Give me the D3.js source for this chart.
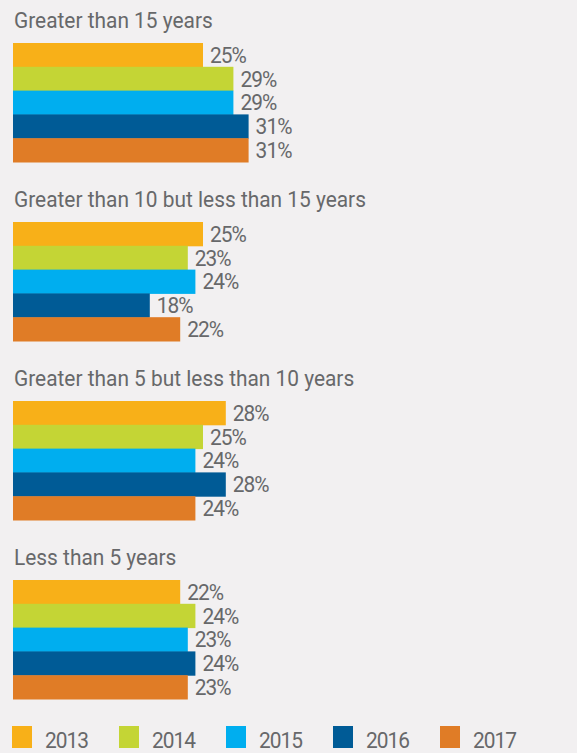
<!DOCTYPE html>
<meta charset="utf-8">
<style>
html, body {
  margin: 0;
  overflow: hidden;
  background: #f2f0f1;
}
text {
  font-family: Roboto, sans-serif;
  fill: #67686a;
}
</style>
<body>
<script src="https://cdn.jsdelivr.net/npm/d3@7"></script>
<script>
var width = 577,
    height = 753;

var groups = ["Greater than 15 years",
              "Greater than 10 but less than 15 years",
              "Greater than 5 but less than 10 years",
              "Less than 5 years"];
var years = ["2013", "2014", "2015", "2016", "2017"];
var colors = ["#f8b018", "#c4d535", "#00aeef", "#005b96", "#e07c26"];

// one row per group, one value per year
var values = [
  [25, 29, 29, 31, 31],
  [25, 23, 24, 18, 22],
  [28, 25, 24, 28, 24],
  [22, 24, 23, 24, 23]
];

var squeeze = 0.95; // fake a condensed face

var svg = d3.select("body").append("svg")
    .attr("width", width)
    .attr("height", height);

var x = d3.scaleLinear().domain([0, 100]).range([13, 773]);
var gy = d3.scaleLinear().domain([0, 3]).range([43, 580]);
var by = d3.scaleBand().domain(years).range([0, 119]).padding(0);
var color = d3.scaleOrdinal().domain(years).range(colors);

function place(tx, ty) {
  return "translate(" + tx + "," + ty + ") scale(" + squeeze + ",1)";
}

var g = svg.selectAll(".group")
    .data(groups)
  .enter().append("g")
    .attr("class", "group")
    .attr("transform", function(d, i) { return "translate(0," + gy(i) + ")"; });

g.append("text")
    .attr("transform", place(14, -15))
    .style("font-size", "22px")
    .text(function(d) { return d; });

var rows = g.selectAll(".row")
    .data(function(d, i) {
      return years.map(function(y, j) { return {year: y, value: values[i][j]}; });
    })
  .enter().append("g")
    .attr("class", "row");

rows.append("rect")
    .attr("x", x(0))
    .attr("y", function(d) { return by(d.year); })
    .attr("width", function(d) { return x(d.value) - x(0); })
    .attr("height", by.bandwidth() + 0.5)
    .attr("fill", function(d) { return color(d.year); });

rows.append("text")
    .attr("transform", function(d) {
      return place(x(d.value) + 7, by(d.year) + by.bandwidth() - 4);
    })
    .style("font-size", "22px")
    .style("letter-spacing", "-1px")
    .text(function(d) { return d.value + "%"; });

// legend
var lx = d3.scaleLinear().domain([0, 4]).range([12, 440]);
var leg = svg.selectAll(".legend")
    .data(years)
  .enter().append("g")
    .attr("class", "legend")
    .attr("transform", function(d, i) { return "translate(" + lx(i) + ",726)"; });

leg.append("rect")
    .attr("width", 20)
    .attr("height", 22)
    .attr("fill", function(d) { return color(d); });

leg.append("text")
    .attr("transform", place(33, 22))
    .style("font-size", "22px")
    .style("letter-spacing", "-1px")
    .text(function(d) { return d; });
</script>
</body>
